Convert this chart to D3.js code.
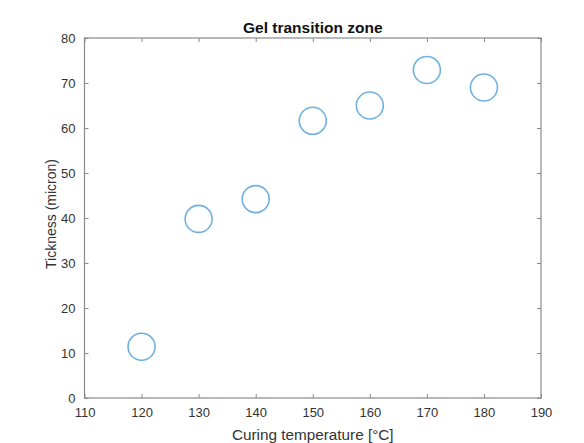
<!DOCTYPE html>
<html>
<head>
<meta charset="utf-8">
<script src="https://cdn.jsdelivr.net/npm/d3@7"></script>
<style>
  body { margin: 0; background: #fff; }
  svg { display: block; }
  text { font-family: "Liberation Sans", Arial, sans-serif; }
</style>
</head>
<body>
<svg id="chart"></svg>
<script>
// data
const temperatures = [120, 130, 140, 150, 160, 170, 180];
const thickness = [11.4, 39.8, 44.2, 61.6, 65.0, 72.9, 69.0];
const xTicks = [110, 120, 130, 140, 150, 160, 170, 180, 190];
const yTicks = [0, 10, 20, 30, 40, 50, 60, 70, 80];

const width = 584, height = 443;
const margin = { top: 38, right: 43, bottom: 45, left: 84.5 };
const axisColor = "#8a8a8a";
const textColor = "#333";

const svg = d3.select("#chart").attr("width", width).attr("height", height);

const x = d3.scaleLinear().domain([110, 190]).range([margin.left, width - margin.right]);
const y = d3.scaleLinear().domain([0, 80]).range([height - margin.bottom, margin.top]);

// inward ticks on all four sides (box on)
const styleAxis = g => {
    g.select(".domain").remove();
    g.selectAll(".tick line").attr("stroke", axisColor);
    g.selectAll(".tick text").attr("fill", textColor).attr("font-size", "13px");
};

svg.append("g")
    .attr("transform", `translate(0,${y(0)})`)
    .call(d3.axisBottom(x).tickValues(xTicks).tickSizeInner(-4).tickSizeOuter(0).tickPadding(10))
    .call(styleAxis);
svg.append("g")
    .attr("transform", `translate(${x(110)},0)`)
    .call(d3.axisLeft(y).tickValues(yTicks).tickSizeInner(-4).tickSizeOuter(0).tickPadding(9))
    .call(styleAxis);
svg.append("g")
    .attr("transform", `translate(0,${y(80)})`)
    .call(d3.axisTop(x).tickValues(xTicks).tickSizeInner(-4).tickSizeOuter(0).tickFormat(""))
    .call(styleAxis);
svg.append("g")
    .attr("transform", `translate(${x(190)},0)`)
    .call(d3.axisRight(y).tickValues(yTicks).tickSizeInner(-4).tickSizeOuter(0).tickFormat(""))
    .call(styleAxis);

svg.append("rect")
    .attr("x", x(110)).attr("y", y(80))
    .attr("width", x(190) - x(110)).attr("height", y(0) - y(80))
    .attr("fill", "none").attr("stroke", axisColor).attr("stroke-width", 1.2);

// markers
svg.append("g").selectAll("circle")
    .data(temperatures.map((t, i) => ({ t, v: thickness[i] })))
    .join("circle")
    .attr("cx", d => x(d.t))
    .attr("cy", d => y(d.v))
    .attr("r", 13.5)
    .attr("fill", "none")
    .attr("stroke", "#6fb2e2")
    .attr("stroke-width", 1.6);

const cx = (x(110) + x(190)) / 2;
svg.append("text")
    .attr("x", cx).attr("y", 32.5)
    .attr("text-anchor", "middle")
    .attr("font-size", "15.5px").attr("font-weight", "bold").attr("fill", "#111")
    .text("Gel transition zone");

svg.append("text")
    .attr("x", cx).attr("y", 440)
    .attr("text-anchor", "middle")
    .attr("font-size", "15.3px").attr("fill", textColor)
    .text("Curing temperature [°C]");

svg.append("text")
    .attr("transform", `translate(56,214) rotate(-90)`)
    .attr("text-anchor", "middle")
    .attr("font-size", "14px").attr("fill", textColor)
    .text("Tickness (micron)");
</script>
</body>
</html>
